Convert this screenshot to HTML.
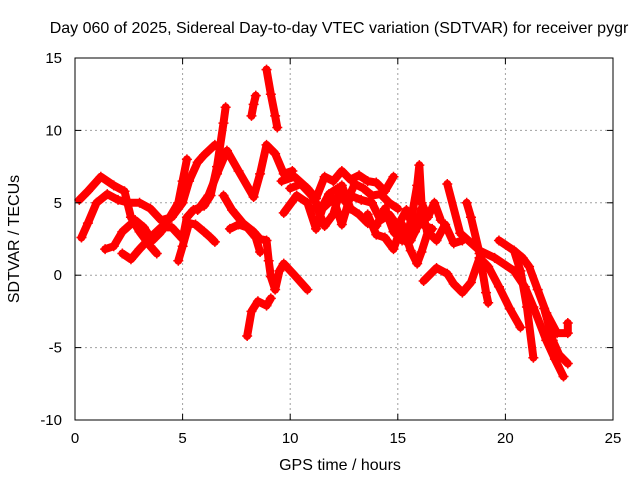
<!DOCTYPE html>
<html><head><meta charset="utf-8"><style>
body{margin:0;background:#fff}
svg{display:block;font-family:"Liberation Sans",sans-serif}
</style></head><body>
<svg id="chart" width="640" height="480" viewBox="0 0 640 480" xmlns="http://www.w3.org/2000/svg">
<text x="339" y="33" font-size="16" text-anchor="middle">Day 060 of 2025, Sidereal Day-to-day VTEC variation (SDTVAR) for receiver pygr</text>
<g id="grid"></g>
<g id="series"></g>
<rect x="75" y="58" width="538" height="362" fill="none" stroke="#000" stroke-width="1"/>
<g id="ticks"></g>
<text x="340" y="470" font-size="16" text-anchor="middle">GPS time / hours</text>
<text transform="translate(19,239) rotate(-90)" font-size="16" text-anchor="middle">SDTVAR / TECUs</text>
</svg>
<script>
const xTicks=[0,5,10,15,20,25];
const yTicks=[-10,-5,0,5,10,15];
const track1=[[0.2,5.2],[0.6,5.8],[1.2,6.8],[1.8,6.2],[2.3,5.8],[2.6,4],[3,3],[3.5,2],[3.8,1.5]];
const track2=[[0.3,2.6],[0.6,3.6],[1,5],[1.5,5.6],[2,5.2],[2.5,5],[3,5],[3.5,4.6],[4,3.8],[4.5,4],[5,5],[5.3,6.5],[5.7,7.8],[6,8.3],[6.5,9]];
const track3=[[1.4,1.8],[1.8,2],[2.2,3],[2.8,3.8],[3.2,3.3],[3.6,2.4],[4,3],[4.4,4],[4.8,5],[5,6.5],[5.2,8]];
const track4=[[2.2,1.5],[2.6,1.1],[3,1.8],[3.5,2.6],[4,3.3],[4.5,3.3],[5,2.5],[5.2,4],[5.5,4.5],[6,4.8],[6.3,5.5],[6.6,7.5],[6.9,10.5],[7,11.6]];
const track5=[[4.8,1],[5,2],[5.3,3.6],[5.6,3.5],[6,3],[6.3,2.6],[6.5,2.3]];
const track6=[[5.7,4.5],[6.2,5.5],[6.6,7],[7.06,8.6],[7.6,7.2],[8.3,5.4],[8.6,7],[8.9,9],[9.3,8.4],[9.7,7],[10.1,7.2]];
const track7=[[6.9,5.5],[7.3,4.5],[7.8,3.6],[8.3,3],[8.6,2.5],[8.9,2.4],[9,1],[9.1,-0.1],[9.3,-1],[9.5,0.3],[9.7,0.8],[10.2,0],[10.8,-1]];
const track8=[[7.2,3.2],[7.6,3.5],[8,3.3],[8.4,2.6],[8.6,1.6]];
const track9=[[8,-4.2],[8.2,-2.5],[8.5,-1.8],[8.9,-2.1],[9.1,-1.6]];
const track10=[[8.2,11],[8.3,11.8],[8.4,12.4]];
const track11=[[8.9,14.2],[9.1,12.5],[9.3,11],[9.4,10.2]];
const track12=[[9.6,6.5],[10.2,6.8],[10.8,6],[11.2,5.3],[11.6,6.8],[12,6.5],[12.4,7.2],[12.8,6.6],[13.2,6.9],[13.6,6.5],[14,6.4],[14.4,5.8],[14.8,6.8]];
const track13=[[9.7,4.3],[10.3,5.5],[10.8,5],[11.2,3.2],[11.5,4.6],[12,5.3],[12.4,3.5],[12.8,5.5],[13.3,5.2],[13.8,5],[14.2,3.8],[14.6,4.2],[15,3.4],[15.4,4.5],[15.8,3],[16.1,4.6],[16.4,2.8]];
const track14=[[13.6,4.2],[14,2.8],[14.4,2.6],[14.8,1.8],[15.2,3.5],[15.6,1.7],[15.9,0.8],[16.1,1.6],[16.4,3],[16.8,2.4],[17.2,3.5],[17.6,2.2],[18,2.4]];
const track15=[[15.4,2.3],[15.7,4.5],[15.9,6.2],[16,7.6],[16.1,5],[16.4,4],[16.7,5],[17,3.8]];
const track16=[[17.3,6.3],[17.9,2.9],[18.8,1.7],[19.5,1.2],[20.4,0.3],[20.9,-0.8],[21.3,-2.2],[21.9,-4.5],[22.3,-5.8],[22.7,-7]];
const track17=[[18.2,5],[18.4,4],[18.8,1.5],[19.1,-1.2],[19.2,-1.9]];
const track18=[[16.2,-0.4],[16.8,0.5],[17.3,0.1],[17.6,-0.6],[18,-1.2],[18.4,-0.5],[18.8,1.2]];
const track19=[[18.8,1.2],[19.2,0.6],[19.7,-0.8],[20.2,-2.3],[20.7,-3.6]];
const track20=[[19.7,2.4],[20.4,1.7],[20.7,0.3],[21,-2.2],[21.3,-5.7]];
const track21=[[20.4,1.7],[20.8,1.2],[21.1,0.6],[21.5,-1],[21.9,-2.6],[22.4,-4],[22.9,-4],[22.9,-3.3]];
const track22=[[21.8,-2.3],[22.2,-4.5],[22.5,-5.5],[22.9,-6.1]];
const track23=[[10,6],[10.5,6.3],[11,5.5],[11.4,4.5],[11.8,5.6],[12.2,6],[12.6,5],[13,6.3],[13.4,6],[13.8,5.5],[14.2,5.6],[14.6,5],[15,4.6]];
const track24=[[11.2,4.8],[11.6,3.4],[12,4.2],[12.4,6.2],[12.8,4.6],[13.2,4.2],[13.6,3.6],[14,3.4],[14.4,4.6],[14.8,3],[15.2,2.4],[15.6,2.4],[16,3.6],[16.6,3.2]];
const tracks=[track1,track2,track3,track4,track5,track6,track7,track8,track9,track10,track11,track12,track13,track14,track15,track16,track17,track18,track19,track20,track21,track22,track23,track24];

const X0=75,X1=613,Y0=420,Y1=58;
function xs(t){return X0+(t-0)/(25-0)*(X1-X0);}
function ys(v){return Y0-(v+10)/(15+10)*(Y0-Y1);}
const NS='http://www.w3.org/2000/svg';
const grid=document.getElementById('grid'),ticks=document.getElementById('ticks'),ser=document.getElementById('series');
function mk(tag,attrs,parent){const e=document.createElementNS(NS,tag);for(const k in attrs)e.setAttribute(k,attrs[k]);parent.appendChild(e);return e;}
xTicks.forEach(t=>{
  const x=xs(t);
  if(t>0&&t<25){const g=mk('line',{x1:x,x2:x,y1:Y1,y2:Y0,stroke:'#a0a0a0','stroke-dasharray':'2,3'},grid);
  
  }
  mk('line',{x1:x,x2:x,y1:Y0,y2:Y0-6,stroke:'#000'},ticks);
  mk('line',{x1:x,x2:x,y1:Y1,y2:Y1+6,stroke:'#000'},ticks);
  const l=mk('text',{x:x,y:443,'font-size':15,'text-anchor':'middle'},ticks);l.textContent=t;
  
  
});
yTicks.forEach(v=>{
  const y=ys(v);
  if(v>-10&&v<15){const g=mk('line',{x1:X0,x2:X1,y1:y,y2:y,stroke:'#a0a0a0','stroke-dasharray':'2,3'},grid);
  
  }
  mk('line',{x1:X0,x2:X0+6,y1:y,y2:y,stroke:'#000'},ticks);
  mk('line',{x1:X1,x2:X1-6,y1:y,y2:y,stroke:'#000'},ticks);
  const l=mk('text',{x:62,y:y+5,'font-size':15,'text-anchor':'end'},ticks);l.textContent=v;
  
  
});
tracks.forEach((tr,i)=>{
  const p=mk('polyline',{points:tr.map(d=>xs(d[0])+','+ys(d[1])).join(' '),fill:'none',stroke:'#ff0000','stroke-width':8,'stroke-linejoin':'round','stroke-linecap':'round'},ser);
  
  
  tr.forEach(d=>{
    const x=xs(d[0]),y=ys(d[1]);
    const m=mk('path',{d:`M${x-5},${y}H${x+5}M${x},${y-5}V${y+5}`,stroke:'#ff0000','stroke-width':1.5},ser);
    
    
  });
});
</script>
</body></html>
